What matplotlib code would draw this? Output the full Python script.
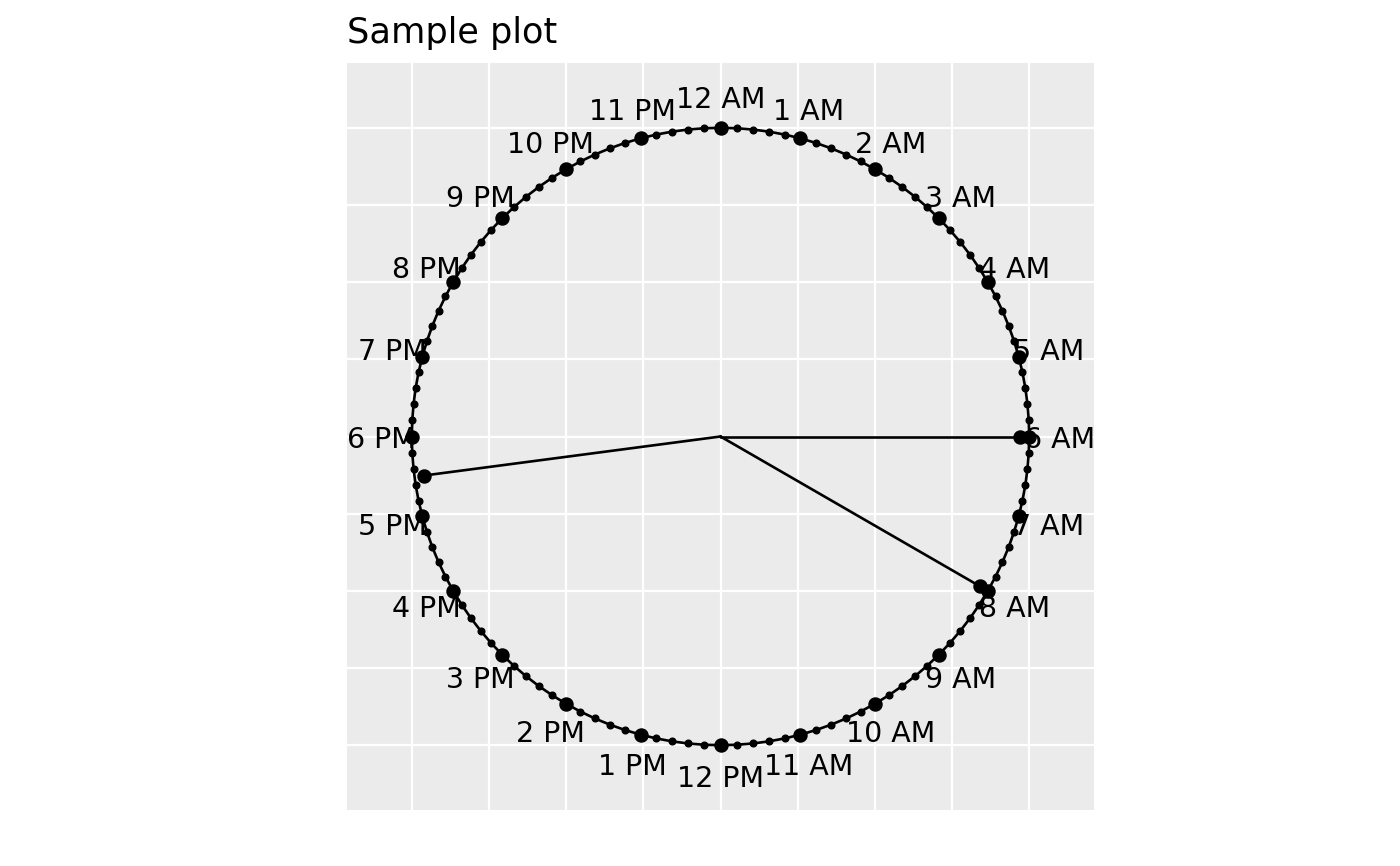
import numpy as np
import matplotlib
matplotlib.use("Agg")
import matplotlib.pyplot as plt

# ---- data ----
hours = list(range(24))
hour_labels = ["12 AM"] + [f"{h} AM" for h in range(1, 12)] + ["12 PM"] + [f"{h} PM" for h in range(1, 12)]
minute_step = 12  # small dots every 12 minutes
clock_times = [m / 60 for m in range(0, 24 * 60, minute_step)]  # hours
hand_times = [6.0, 8.0, 17.5]
hand_lengths = [0.97, 0.97, 0.97]
label_radius = 1.1
clock_radius = 1.0
title = "Sample plot"


def polar(t, r):
    a = np.deg2rad(np.asarray(t) * 15.0)
    return r * np.sin(a), r * np.cos(a)


fig = plt.figure(figsize=(14, 8.66), dpi=100)
ax = fig.add_axes([347 / 1400, 1 - 810 / 866, 747 / 1400, 747 / 866])
ax.set_facecolor("#EBEBEB")
lim = 1.21
ax.set_xlim(-lim, lim)
ax.set_ylim(-lim, lim)
ax.set_aspect("equal")
grid = np.arange(-1.0, 1.01, 0.25)
ax.set_xticks(grid)
ax.set_yticks(grid)
ax.grid(True, color="white", linewidth=1.6)
ax.set_axisbelow(True)
ax.tick_params(length=0, labelbottom=False, labelleft=False)
for s in ax.spines.values():
    s.set_visible(False)

# circle through minute points
cx, cy = polar(clock_times + [clock_times[0]], clock_radius)
ax.plot(cx, cy, color="black", linewidth=1.9, zorder=3)
ax.plot(cx[:-1], cy[:-1], "o", color="black", markersize=4.8, zorder=4)

# hour points
hx, hy = polar(hours, clock_radius)
ax.plot(hx, hy, "o", color="black", markersize=9.4, linestyle="none", zorder=5)

# hands
for t, r in zip(hand_times, hand_lengths):
    ex, ey = polar(t, r)
    ax.plot([0, ex], [0, ey], color="black", linewidth=1.9, zorder=3)
    ax.plot([ex], [ey], "o", color="black", markersize=9.4, zorder=5)

# labels
lx, ly = polar(hours, label_radius)
for x, y, lab in zip(lx, ly, hour_labels):
    ax.text(x, y, lab, ha="center", va="center_baseline", fontsize=20.5, color="black", zorder=6)

fig.text(347 / 1400, 1 - 43 / 866, title, ha="left", va="baseline", fontsize=25.3)

fig.savefig("out.png", dpi=100)
